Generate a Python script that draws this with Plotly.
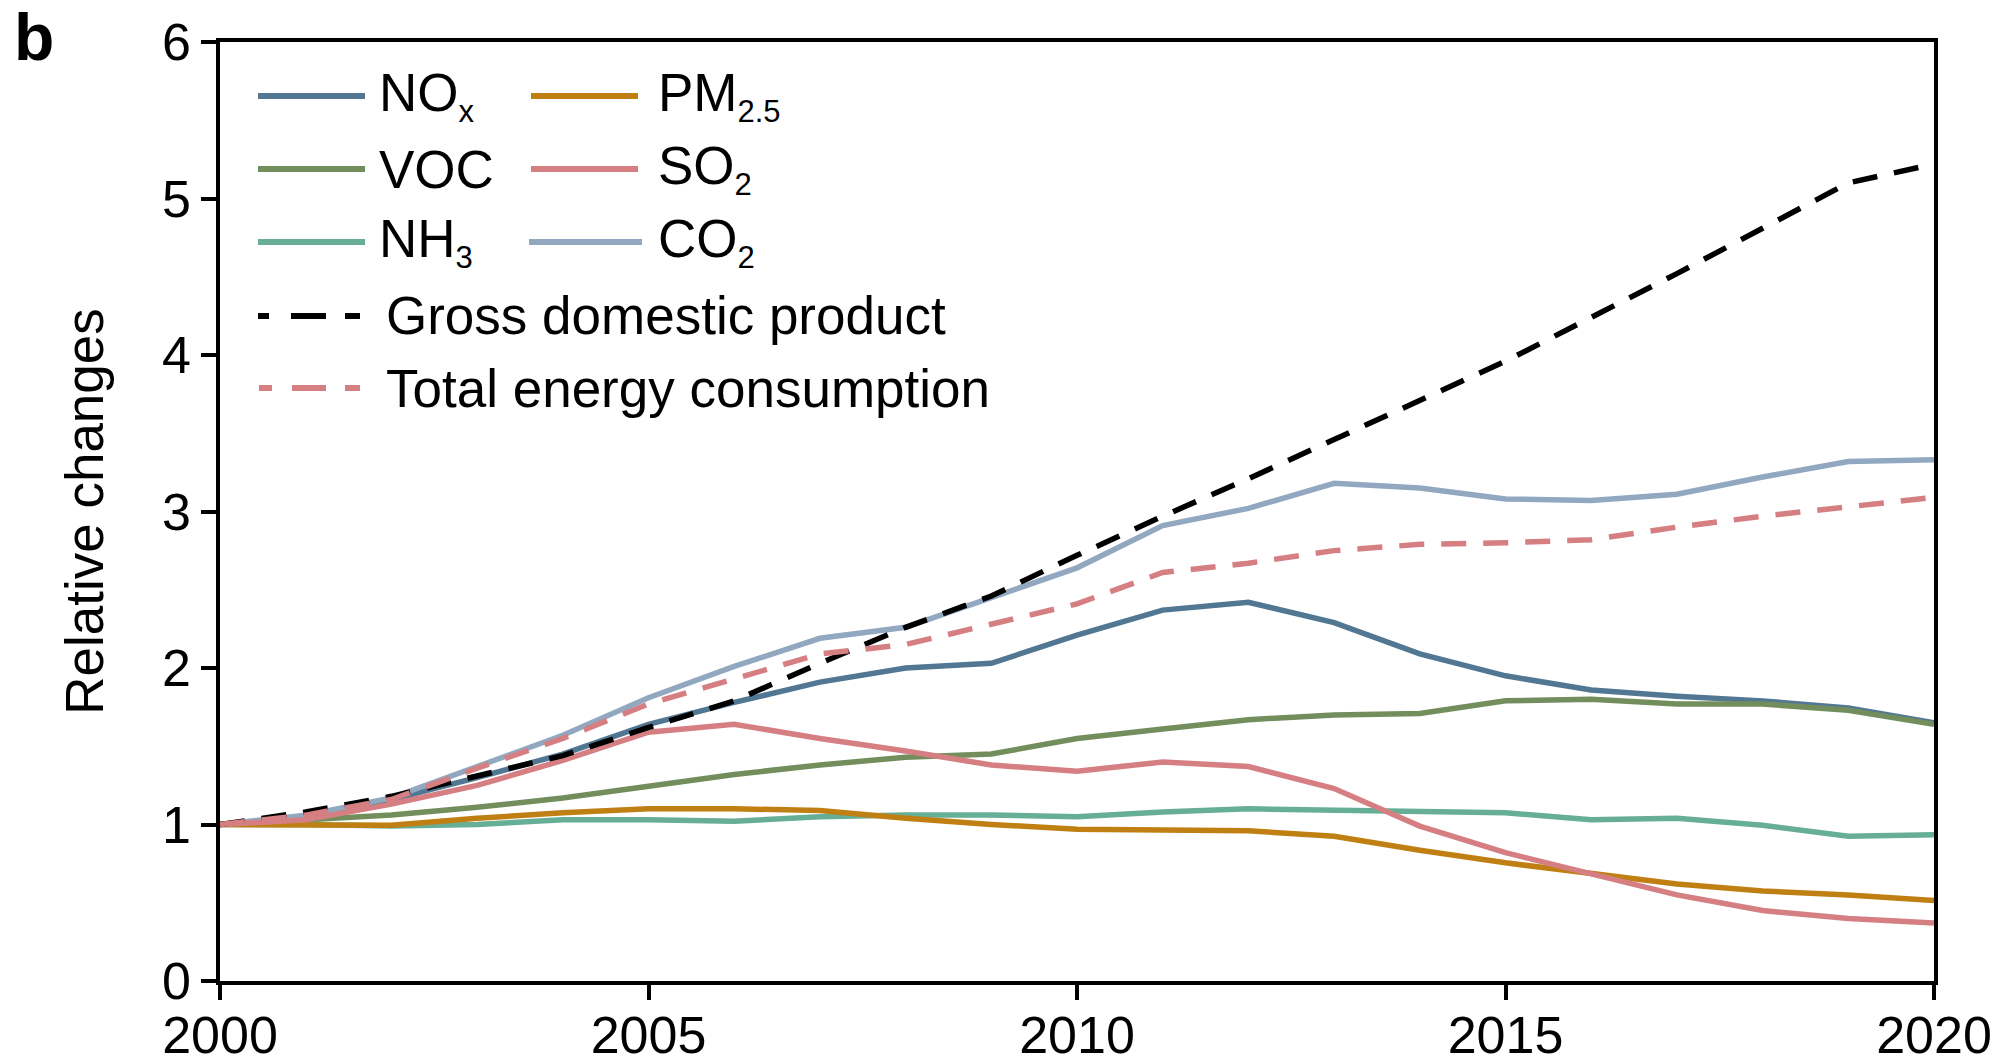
import plotly.graph_objects as go

# Relative changes in emissions, GDP and energy use, 2000 = 1
years = list(range(2000, 2021))

nox = [1.00, 1.05, 1.16, 1.30, 1.45, 1.64, 1.78, 1.91, 2.00, 2.03, 2.21,
       2.37, 2.42, 2.29, 2.09, 1.95, 1.86, 1.82, 1.79, 1.745, 1.65]
voc = [1.00, 1.03, 1.06, 1.11, 1.17, 1.245, 1.32, 1.38, 1.43, 1.45, 1.55,
       1.61, 1.67, 1.70, 1.71, 1.79, 1.80, 1.77, 1.77, 1.73, 1.64]
nh3 = [1.00, 1.00, 0.99, 1.00, 1.03, 1.03, 1.02, 1.05, 1.06, 1.06, 1.05,
       1.08, 1.10, 1.09, 1.085, 1.075, 1.03, 1.04, 0.995, 0.925, 0.935]
pm25 = [1.00, 1.00, 0.995, 1.04, 1.075, 1.10, 1.10, 1.09, 1.04, 1.00, 0.97,
        0.965, 0.96, 0.925, 0.835, 0.755, 0.685, 0.62, 0.575, 0.55, 0.515]
so2 = [1.00, 1.03, 1.13, 1.25, 1.41, 1.59, 1.64, 1.55, 1.47, 1.38, 1.34,
       1.40, 1.37, 1.23, 0.99, 0.82, 0.685, 0.55, 0.45, 0.40, 0.37]
co2 = [1.00, 1.06, 1.17, 1.37, 1.57, 1.81, 2.01, 2.19, 2.26, 2.45, 2.64,
       2.91, 3.02, 3.18, 3.15, 3.08, 3.07, 3.11, 3.22, 3.32, 3.33]
gdp = [1.00, 1.08, 1.18, 1.31, 1.44, 1.62, 1.79, 2.03, 2.26, 2.46, 2.72,
       2.97, 3.21, 3.46, 3.71, 3.96, 4.24, 4.52, 4.81, 5.10, 5.22]
energy = [1.00, 1.06, 1.16, 1.36, 1.55, 1.77, 1.93, 2.09, 2.15, 2.28, 2.41,
          2.61, 2.67, 2.75, 2.79, 2.80, 2.82, 2.90, 2.97, 3.03, 3.09]

x_ticks = [2000, 2005, 2010, 2015, 2020]
y_ticks = [0, 1, 2, 3, 4, 5, 6]

C_NOX = "#517792"
C_VOC = "#738e5d"
C_NH3 = "#67ae96"
C_PM = "#c07f12"
C_SO2 = "#d67f83"
C_CO2 = "#91a8c0"
C_GDP = "#000000"

FONT = "Liberation Sans, Arial, Helvetica, sans-serif"
FS_TICK = 52
FS_TEXT = 53
LW = 5.5
DASH = "25px,17px"

W, H = 2006, 1064
ML, MR, MT, MB = 220, 72, 42, 83
PW, PH = W - ML - MR, H - MT - MB


def px(xp):
    return (xp - ML) / PW


def py(yp):
    return 1 - (yp - MT) / PH


def sub(s):
    return "<sub><span style='font-size:31px'>%s</span></sub>" % s


series = [
    ("NOx", nox, C_NOX, "solid"),
    ("VOC", voc, C_VOC, "solid"),
    ("NH3", nh3, C_NH3, "solid"),
    ("PM2.5", pm25, C_PM, "solid"),
    ("CO2", co2, C_CO2, "solid"),
    ("SO2", so2, C_SO2, "solid"),
    ("Gross domestic product", gdp, C_GDP, DASH),
    ("Total energy consumption", energy, C_SO2, DASH),
]

fig = go.Figure()
for name, vals, col, dash in series:
    fig.add_trace(go.Scatter(
        x=years, y=vals, mode="lines", name=name, showlegend=False,
        line=dict(color=col, width=LW, dash=dash),
    ))

# Hand-built legend: two columns of pollutants, then the two drivers
legend_rows = [
    ("NO" + sub("x"), C_NOX, "solid", 258, 365, 377, 96),
    ("VOC", C_VOC, "solid", 258, 365, 377, 169),
    ("NH" + sub("3"), C_NH3, "solid", 258, 365, 377, 242),
    ("PM" + sub("2.5"), C_PM, "solid", 531, 638, 656, 96),
    ("SO" + sub("2"), C_SO2, "solid", 531, 638, 656, 169),
    ("CO" + sub("2"), C_CO2, "solid", 529, 642, 656, 242),
    ("Gross domestic product", C_GDP, "11px,22px,35px,19px,15px", 258, 360, 384, 316),
    ("Total energy consumption", C_SO2, "13px,20px,34px,19px,15px", 259, 360, 384, 388),
]
for label, col, dash, x0, x1, xt, yr in legend_rows:
    fig.add_shape(type="line", xref="paper", yref="paper",
                  x0=px(x0), x1=px(x1), y0=py(yr), y1=py(yr),
                  line=dict(color=col, width=6, dash=dash))
    fig.add_annotation(xref="paper", yref="paper", x=px(xt), y=py(yr),
                       xanchor="left", yanchor="middle", text=label,
                       showarrow=False,
                       font=dict(family=FONT, size=FS_TEXT, color="black"))

# Panel letter
fig.add_annotation(xref="paper", yref="paper", x=px(12), y=py(-2),
                   xanchor="left", yanchor="top", text="<b>b</b>", showarrow=False,
                   font=dict(family=FONT, size=66, color="black"))

axis_common = dict(
    showline=True, linecolor="black", linewidth=3.5, mirror=True,
    ticks="outside", ticklen=15, tickwidth=4, tickcolor="black",
    showgrid=False, zeroline=False, automargin=False,
    tickfont=dict(family=FONT, size=FS_TICK, color="black"),
)

fig.update_layout(
    width=W, height=H,
    margin=dict(l=ML, r=MR, t=MT, b=MB, autoexpand=False),
    paper_bgcolor="white", plot_bgcolor="white",
    xaxis=dict(range=[2000, 2020], tickvals=x_ticks, ticklabelstandoff=-9,
               **axis_common),
    yaxis=dict(range=[0, 6], tickvals=y_ticks,
               title=dict(text="Relative changes", standoff=42,
                          font=dict(family=FONT, size=FS_TEXT, color="black")),
               **axis_common),
)

fig.write_html("out.html")
